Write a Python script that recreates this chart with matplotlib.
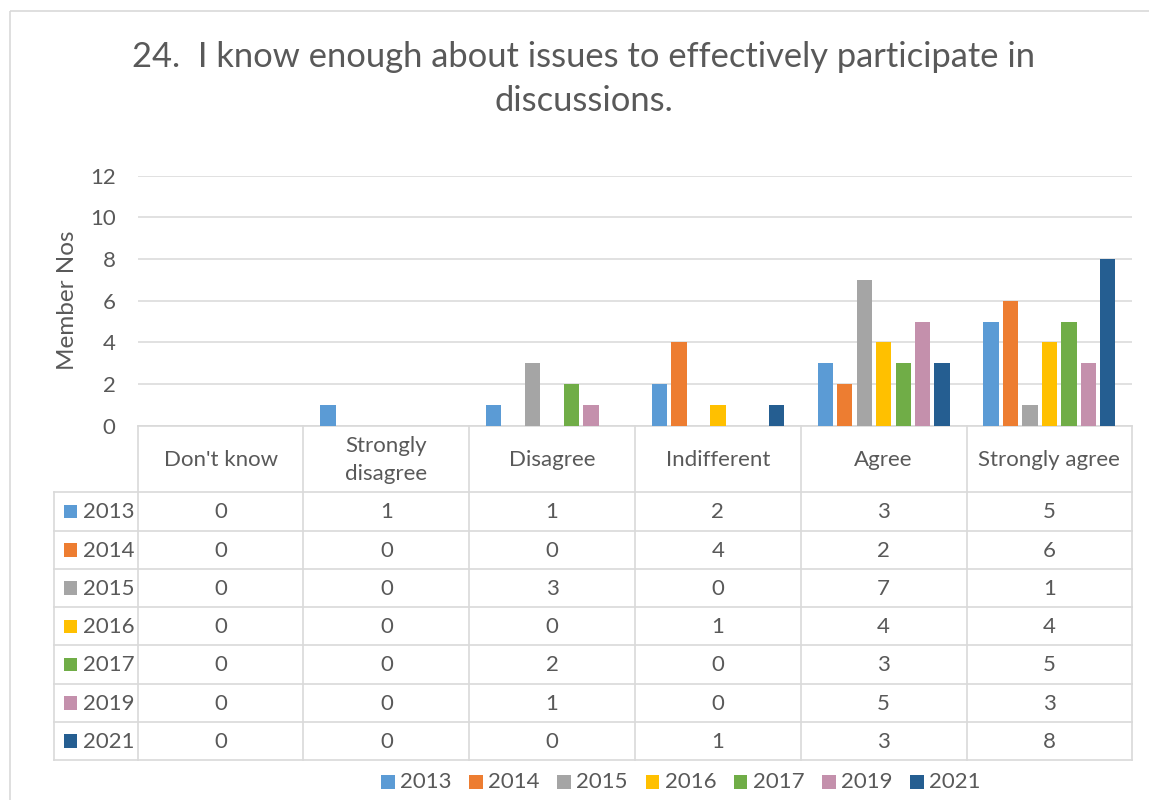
import matplotlib
matplotlib.use("Agg")
import matplotlib.pyplot as plt
from matplotlib.patches import Rectangle

categories = ["Don't know", "Strongly\ndisagree", "Disagree", "Indifferent", "Agree", "Strongly agree"]
years = ["2013", "2014", "2015", "2016", "2017", "2019", "2021"]
v2013 = [0, 1, 1, 2, 3, 5]
v2014 = [0, 0, 0, 4, 2, 6]
v2015 = [0, 0, 3, 0, 7, 1]
v2016 = [0, 0, 0, 1, 4, 4]
v2017 = [0, 0, 2, 0, 3, 5]
v2019 = [0, 0, 1, 0, 5, 3]
v2021 = [0, 0, 0, 1, 3, 8]
series = [v2013, v2014, v2015, v2016, v2017, v2019, v2021]
colors = ["#5B9BD5", "#ED7D31", "#A5A5A5", "#FFC000", "#70AD47", "#C490AC", "#255E91"]
yticks = [0, 2, 4, 6, 8, 10, 12]
title = "24.  I know enough about issues to effectively participate in\ndiscussions."
ylabel = "Member Nos"

FONT = "Lato"
TXT = "#595959"
GRID = "#D9D9D9"
W, H = 1149, 800
FS = 16

plt.rcParams['font.family'] = [FONT, 'DejaVu Sans']
fig = plt.figure(figsize=(W / 100, H / 100), dpi=100)

# overlay axes in pixel coords
ov = fig.add_axes([0, 0, 1, 1], zorder=0)
ov.set_xlim(0, W)
ov.set_ylim(H, 0)
ov.axis("off")

# outer chart border
ov.add_patch(Rectangle((9.5, 11), W, H, fill=False, edgecolor=GRID, lw=1.2))

L, R, T, B = 137.7, 1132.3, 175.7, 425.7
ax = fig.add_axes([L / W, (H - B) / H, (R - L) / W, (B - T) / H], zorder=2)
ax.set_facecolor("none")
ax.set_xlim(-0.5, len(categories) - 0.5)
ax.set_ylim(0, 12)
ax.set_yticks(yticks)
ax.set_yticklabels([str(t) for t in yticks], fontsize=FS, color=TXT)
ax.tick_params(axis="y", length=0, pad=16)
ax.set_xticks([])
for s in ax.spines.values():
    s.set_visible(False)
ax.yaxis.grid(True, color=GRID, lw=1.1)
ax.set_axisbelow(True)

n = len(series)
pitch = 0.1175
bw = 0.092
for i, (vals, c) in enumerate(zip(series, colors)):
    xs = [k + (i - (n - 1) / 2) * pitch for k in range(len(categories))]
    ax.bar(xs, vals, width=bw, color=c, zorder=3)

ov.text(68, 300, ylabel, rotation=90, ha="center", va="center", fontsize=17.5, color=TXT)

# title
lines = title.split("\n")
ov.text(584, 67, lines[0], ha="center", va="baseline", fontsize=24.8, color=TXT)
ov.text(584, 111, lines[1], ha="center", va="baseline", fontsize=24.8, color=TXT)

# data table
colw = (R - L) / len(categories)
hdr_top, hdr_bot = B, 492.3
row_h = (760 - hdr_bot) / len(years)
tbl_left = 54.3
lw = 1.2
for k in range(len(categories) + 1):
    x = L + k * colw
    ov.plot([x, x], [hdr_top, 760], color=GRID, lw=lw, zorder=1)
ov.plot([L, R], [hdr_top, hdr_top], color=GRID, lw=lw, zorder=1)
ov.plot([tbl_left, tbl_left], [hdr_bot, 760], color=GRID, lw=lw, zorder=1)
for r in range(len(years) + 1):
    y = hdr_bot + r * row_h
    ov.plot([tbl_left, R], [y, y], color=GRID, lw=lw, zorder=1)

for k, cat in enumerate(categories):
    ov.text(L + (k + 0.5) * colw, (hdr_top + hdr_bot) / 2 + 1, cat, ha="center", va="center",
            fontsize=FS, color=TXT, linespacing=1.45)

for r, (yr, vals, c) in enumerate(zip(years, series, colors)):
    yc = hdr_bot + (r + 0.5) * row_h
    ov.add_patch(Rectangle((63.5, yc - 6.5), 13.5, 13.5, color=c, lw=0))
    ov.text(83, yc + 1, yr, ha="left", va="center", fontsize=FS, color=TXT)
    for k, v in enumerate(vals):
        ov.text(L + (k + 0.5) * colw, yc + 1, str(v), ha="center", va="center", fontsize=FS, color=TXT)

# legend
leg_y = 781.5
x0 = 381
step = 88.2
for i, (yr, c) in enumerate(zip(years, colors)):
    x = x0 + i * step
    ov.add_patch(Rectangle((x, leg_y - 6.5), 13.5, 13.5, color=c, lw=0))
    ov.text(x + 19, leg_y + 1, yr, ha="left", va="center", fontsize=FS, color=TXT)

fig.savefig("out.png", dpi=100)
